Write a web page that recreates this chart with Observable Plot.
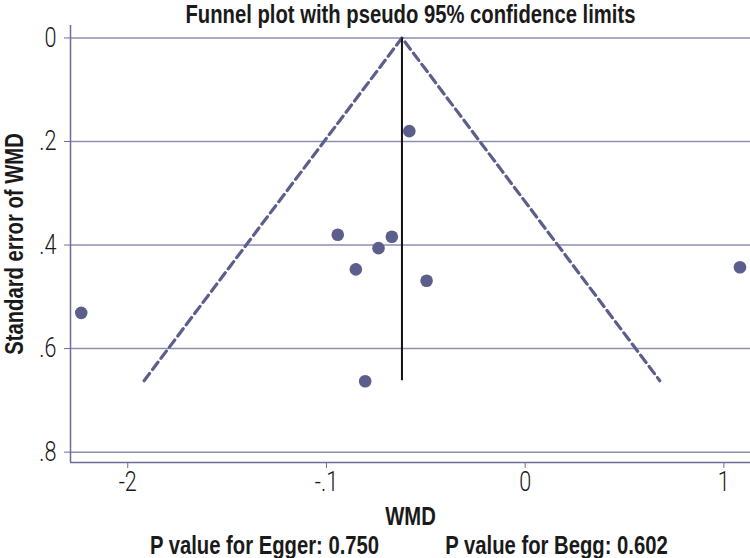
<!DOCTYPE html>
<html>
<head>
<meta charset="utf-8">
<script src="https://cdn.jsdelivr.net/npm/d3@7"></script>
<script src="https://cdn.jsdelivr.net/npm/@observablehq/plot@0.6"></script>
<style>
  html, body { margin: 0; padding: 0; background: #fff; }
  #chart svg { display: block; }
</style>
</head>
<body>
<div id="chart"></div>
<script>
// Study estimates (WMD) and their standard errors
const wmd = [-0.583, -0.943, -0.671, -0.738, -0.852, -0.496, -0.805, -2.234, 1.081];
const seWmd = [0.180, 0.380, 0.384, 0.406, 0.447, 0.469, 0.663, 0.531, 0.443];
// Pooled estimate and funnel depth
const pooled = -0.62;
const maxSE = 0.662;
// Axis ticks and labels
const xTicks = [-2, -1, 0, 1];
const xTickLabels = ["-2", "-.1", "0", "1"];
const yTicks = [0, 0.2, 0.4, 0.6, 0.8];
const yTickLabels = ["0", ".2", ".4", ".6", ".8"];
const titleText = "Funnel plot with pseudo 95% confidence limits";
const xLabel = "WMD";
const yLabel = "Standard error of WMD";
const captionLeft = "P value for Egger: 0.750";
const captionRight = "P value for Begg: 0.602";

const studies = wmd.map((x, i) => ({x, se: seWmd[i]}));
const funnel = [
  {x: pooled - 1.96 * maxSE, se: maxSE},
  {x: pooled, se: 0},
  {x: pooled + 1.96 * maxSE, se: maxSE}
];

const xDomain = [-2.288, 1.134];
const yDomain = [-0.024, 0.82];
const gridColor = "#8e8eb2";
const axisColor = "#6c6c9a";
const markColor = "#5c5f8c";
const textColor = "#1a1a1a";
const boldFont = "'Liberation Sans', Arial, sans-serif";
const lightFont = "Roboto, 'Liberation Sans', sans-serif";

const boldText = (txt, opts) => Plot.text([txt], {
  textAnchor: "middle", lineAnchor: "middle", fontSize: 25, fontWeight: "bold",
  fill: textColor, fontFamily: boldFont, className: "cond-bold", ...opts
});

const chart = Plot.plot({
  width: 750,
  height: 558,
  marginLeft: 70,
  marginRight: 0,
  marginTop: 25,
  marginBottom: 96,
  style: {fontFamily: lightFont, background: "#fff"},
  x: {domain: xDomain},
  y: {domain: yDomain, reverse: true},
  marks: [
    Plot.ruleY(yTicks, {stroke: gridColor, strokeWidth: 1.5, x1: xDomain[0], x2: xDomain[1]}),
    Plot.ruleX([xDomain[0]], {stroke: axisColor, strokeWidth: 1.5}),
    Plot.ruleY([yDomain[1]], {stroke: axisColor, strokeWidth: 1.5}),
    Plot.axisY({
      ticks: yTicks, tickSize: 6, tickPadding: 8,
      tickFormat: d => yTickLabels[yTicks.indexOf(d)],
      stroke: axisColor, fill: textColor, fontSize: 27, fontWeight: 300, label: null
    }),
    Plot.axisX({
      ticks: xTicks, tickSize: 6, tickPadding: 3,
      tickFormat: d => xTickLabels[xTicks.indexOf(d)],
      stroke: axisColor, fill: textColor, fontSize: 27, fontWeight: 300, label: null
    }),
    Plot.line(funnel, {x: "x", y: "se", stroke: markColor, strokeWidth: 3.2, strokeDasharray: "9,5"}),
    Plot.ruleX([pooled], {y1: 0, y2: maxSE, stroke: "#111", strokeWidth: 2}),
    Plot.dot(studies, {x: "x", y: "se", r: 6.3, fill: markColor, stroke: "none"}),
    boldText(titleText, {frameAnchor: "top", dy: -11}),
    boldText(xLabel, {frameAnchor: "bottom", dy: 54}),
    boldText(captionLeft, {frameAnchor: "bottom", dx: -146, dy: 83}),
    boldText(captionRight, {frameAnchor: "bottom", dx: 146, dy: 83}),
    boldText(yLabel, {frameAnchor: "left", dx: -56, rotate: -90})
  ]
});
document.getElementById("chart").appendChild(chart);

// Condense glyphs to mimic a condensed typeface
chart.querySelectorAll("text").forEach(t => {
  const bold = t.closest(".cond-bold") !== null;
  const k = bold ? 0.81 : 0.8;
  const len = t.getComputedTextLength();
  if (len > 0) {
    t.setAttribute("textLength", (len * k).toFixed(1));
    t.setAttribute("lengthAdjust", "spacingAndGlyphs");
  }
});
</script>
</body>
</html>
